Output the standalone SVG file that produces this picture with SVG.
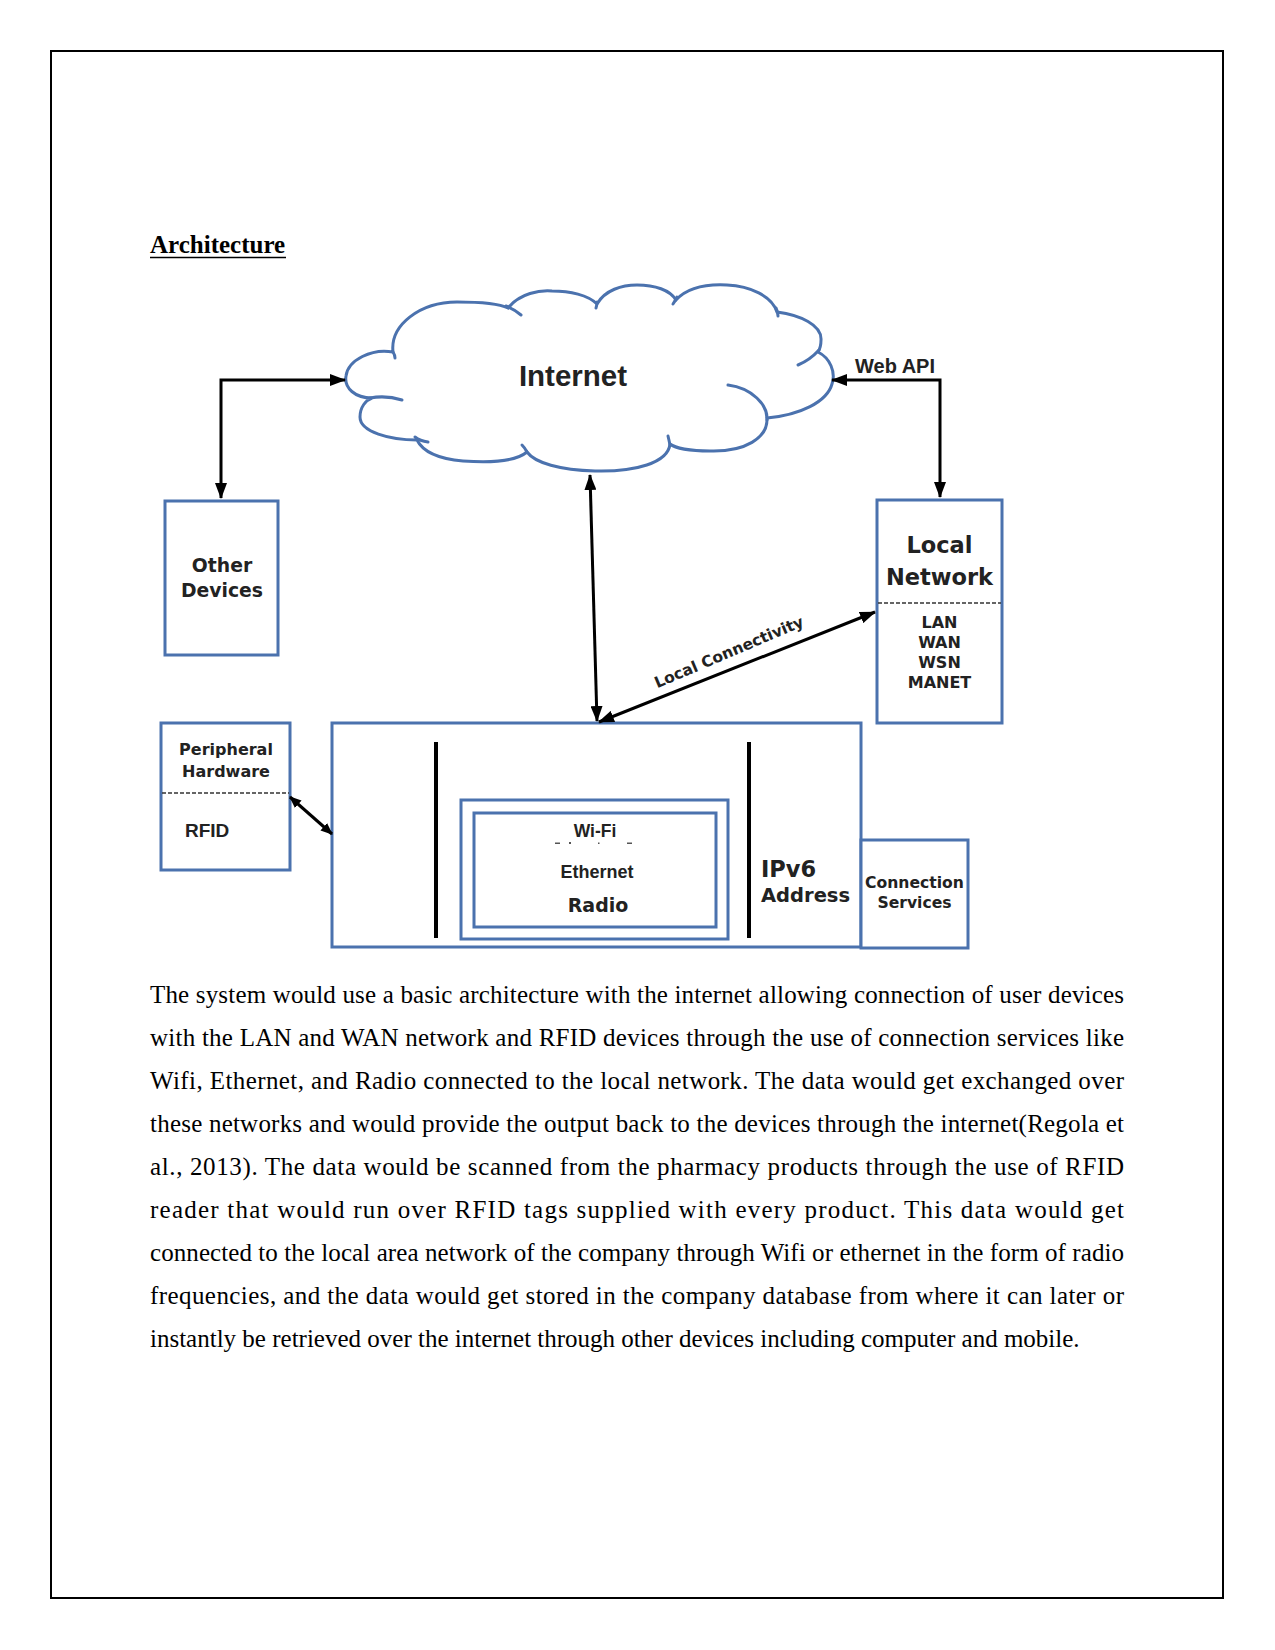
<svg xmlns="http://www.w3.org/2000/svg" width="1275" height="1650" viewBox="0 0 1275 1650">
<style>
.box{fill:#fff;stroke:#4b72ae;stroke-width:3}
.bl{fill:none;stroke:#4b72ae;stroke-width:3;stroke-linecap:round}
.dash{stroke:#333;stroke-width:1.5;stroke-dasharray:4 2}
.con{fill:none;stroke:#000;stroke-width:3}
.dj{font-family:"DejaVu Sans",sans-serif;font-weight:bold;fill:#222}
.ls{font-family:"Liberation Sans",Arial,sans-serif;font-weight:bold;fill:#222}
.body{font-family:"Liberation Serif","Times New Roman",serif;font-size:25px;fill:#000}
.c{text-anchor:middle}
</style>
<defs>
<marker id="ah" viewBox="0 0 16 12" refX="15" refY="6" markerWidth="16" markerHeight="12" markerUnits="userSpaceOnUse" orient="auto-start-reverse"><path d="M0,0 L16,6 L0,12 z" fill="#000"/></marker>
<marker id="ahs" viewBox="0 0 12 10" refX="11" refY="5" markerWidth="12" markerHeight="10" markerUnits="userSpaceOnUse" orient="auto-start-reverse"><path d="M0,0 L12,5 L0,10 z" fill="#000"/></marker>
</defs>
<rect x="0" y="0" width="1275" height="1650" fill="#fff"/>
<rect x="51" y="51" width="1172" height="1547" fill="none" stroke="#000" stroke-width="2"/>

<g id="heading">
<text x="150" y="253" font-family="'Liberation Serif','Times New Roman',serif" font-weight="bold" font-size="25" fill="#000">Architecture</text>
<line x1="150" y1="257.5" x2="286" y2="257.5" stroke="#000" stroke-width="1.5"/>
</g>

<g id="internet">
<path class="box" d="M372 398 C355 398 344 388 346 376 C348 360 372 348 393 352 C390 325 420 302 457 302 C480 302 500 304 508 308 C520 293 540 290 552 291 C570 291 588 295 597 304 C605 290 622 285 637 285 C655 285 670 290 676 300 C688 287 708 284 727 285 C750 286 772 296 777 312 C800 315 822 325 821 340 C821 345 820 349 818 352 C830 358 836 372 832 384 C827 402 800 415 767 418 C768 438 745 452 710 451 C690 451 675 448 670 444 C668 463 635 472 595 471 C560 470 535 463 527 452 C515 462 490 463 463 461 C440 459 423 452 417 440 C390 440 360 432 360 417 C360 407 366 400 372 398 Z"/>
<path class="bl" d="M393 352 Q395 355 395 358"/>
<path class="bl" d="M370 398 Q386 395 402 400"/>
<path class="bl" d="M506 306 Q514 309 521 315"/>
<path class="bl" d="M597 302 Q597 305 596 308"/>
<path class="bl" d="M677 297 Q675 301 673 304"/>
<path class="bl" d="M776 308 Q778 312 778 316"/>
<path class="bl" d="M819 350 Q810 360 798 365"/>
<path class="bl" d="M767 420 C768 405 752 388 728 385"/>
<path class="bl" d="M670 445 Q669 440 668 436"/>
<path class="bl" d="M527 452 Q525 448 522 445"/>
<path class="bl" d="M415 437 Q420 441 428 442"/>
<text class="ls c" x="573" y="386" font-size="29.5">Internet</text>
</g>

<g id="other-devices">
<rect class="box" x="165" y="501" width="113" height="154"/>
<text class="dj c" x="222" y="572" font-size="18.8">Other</text>
<text class="dj c" x="222" y="597" font-size="18.8">Devices</text>
</g>

<g id="local-network">
<rect class="box" x="877" y="500" width="125" height="223"/>
<text class="dj c" x="939.5" y="553" font-size="22.5">Local</text>
<text class="dj c" x="939.5" y="585" font-size="22.5">Network</text>
<line class="dash" x1="878" y1="603" x2="1001" y2="603"/>
<text class="dj c" x="939.5" y="628" font-size="16">LAN</text>
<text class="dj c" x="939.5" y="648" font-size="16">WAN</text>
<text class="dj c" x="939.5" y="668" font-size="16">WSN</text>
<text class="dj c" x="939.5" y="688" font-size="16">MANET</text>
</g>

<g id="peripheral-hardware">
<rect class="box" x="161" y="723" width="129" height="147"/>
<text class="dj c" x="226" y="755" font-size="16">Peripheral</text>
<text class="dj c" x="226" y="777" font-size="16">Hardware</text>
<line class="dash" x1="162" y1="793" x2="289" y2="793"/>
<text class="ls" x="185" y="837" font-size="19">RFID</text>
</g>

<g id="device-stack">
<rect class="box" x="332" y="723" width="529" height="224"/>
<line x1="436" y1="742" x2="436" y2="938" stroke="#000" stroke-width="4"/>
<line x1="749" y1="742" x2="749" y2="938" stroke="#000" stroke-width="4"/>
<text class="dj" x="761" y="877" font-size="22.5">IPv6</text>
<text class="dj" x="761" y="902" font-size="19.5">Address</text>
</g>

<g id="link-layer">
<rect class="box" x="461" y="800" width="267" height="139"/>
<rect class="box" x="474" y="813" width="242" height="114"/>
<text class="ls c" x="595" y="837" font-size="17.5">Wi-Fi</text>
<g fill="#555">
<rect x="555" y="842.5" width="5" height="1.5"/>
<rect x="569" y="842" width="2" height="2"/>
<rect x="598" y="842.5" width="1.5" height="1.5"/>
<rect x="627" y="842.5" width="5" height="1.5"/>
</g>
<text class="ls c" x="597" y="878" font-size="18">Ethernet</text>
<text class="dj c" x="598" y="912" font-size="19">Radio</text>
</g>

<g id="connection-services">
<rect class="box" x="861" y="840" width="107" height="108"/>
<text class="dj c" x="914.5" y="888" font-size="15.6">Connection</text>
<text class="dj c" x="914.5" y="908" font-size="15.6">Services</text>
</g>

<g id="connectors">
<path class="con" d="M221 498 V380 H345" marker-start="url(#ah)" marker-end="url(#ah)"/>
<path class="con" d="M832 380 H940 V497" marker-start="url(#ah)" marker-end="url(#ah)"/>
<path class="con" d="M590 475 L597 721" marker-start="url(#ah)" marker-end="url(#ah)"/>
<path class="con" d="M599 722 L875 612" marker-start="url(#ah)" marker-end="url(#ah)"/>
<path class="con" d="M290 797 L332 834" marker-start="url(#ahs)" marker-end="url(#ahs)"/>
<text class="ls" x="855" y="373" font-size="20" fill="#222">Web API</text>
<text class="dj c" x="731" y="657" font-size="15.5" transform="rotate(-23 731 657)">Local Connectivity</text>
</g>

<g id="body-text" class="body">
<text x="150" y="1003" textLength="974" lengthAdjust="spacing">The system would use a basic architecture with the internet allowing connection of user devices</text>
<text x="150" y="1046" textLength="974" lengthAdjust="spacing">with the LAN and WAN network and RFID devices through the use of connection services like</text>
<text x="150" y="1089" textLength="974" lengthAdjust="spacing">Wifi, Ethernet, and Radio connected to the local network. The data would get exchanged over</text>
<text x="150" y="1132" textLength="974" lengthAdjust="spacing">these networks and would provide the output back to the devices through the internet(Regola et</text>
<text x="150" y="1175" textLength="974" lengthAdjust="spacing">al., 2013). The data would be scanned from the pharmacy products through the use of RFID</text>
<text x="150" y="1218" textLength="974" lengthAdjust="spacing">reader that would run over RFID tags supplied with every product. This data would get</text>
<text x="150" y="1261" textLength="974" lengthAdjust="spacing">connected to the local area network of the company through Wifi or ethernet in the form of radio</text>
<text x="150" y="1304" textLength="974" lengthAdjust="spacing">frequencies, and the data would get stored in the company database from where it can later or</text>
<text x="150" y="1347">instantly be retrieved over the internet through other devices including computer and mobile.</text>
</g>
</svg>
